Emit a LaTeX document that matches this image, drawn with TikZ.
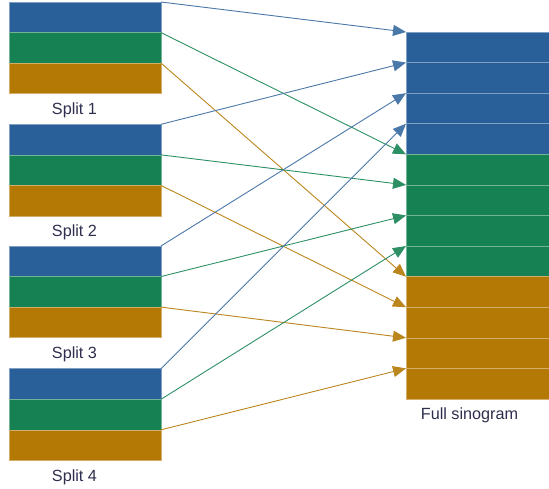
\documentclass[tikz,border=0pt]{standalone}
\usepackage{fontspec}
\setmainfont{Liberation Sans}
\usetikzlibrary{arrows.meta}
\definecolor{cblue}{HTML}{2A6099}
\definecolor{cgreen}{HTML}{168253}
\definecolor{corange}{HTML}{B47804}
\definecolor{ctext}{HTML}{2E2E4E}
\tikzset{
  row/.style={rectangle, inner sep=0pt, outer sep=0pt, anchor=north west,
    minimum width=152pt, minimum height=30.55pt, line width=0.6pt},
  frow/.style={rectangle, inner sep=0pt, outer sep=0pt, anchor=north west,
    minimum width=143pt, minimum height=30.58pt, line width=0.6pt},
  rb/.style={fill=cblue, draw=cblue!60!white},
  rg/.style={fill=cgreen, draw=cgreen!60!white},
  ro/.style={fill=corange, draw=corange!60!white},
  lbl/.style={text=ctext, font=\fontsize{16.2}{19}\selectfont, inner sep=0pt},
  arr/.style={line width=0.9pt, -{Triangle[length=13pt,width=11pt]}},
}
\begin{document}
\begin{tikzpicture}[x=1pt,y=-1pt]
\useasboundingbox (0,0) rectangle (549,488);
% left splits
\foreach \k/\top in {1/2, 2/124.3, 3/246, 4/368.7}{
  \node[row,rb] (s\k r0) at (9,\top) {};
  \node[row,rg] (s\k r1) at (9,\top+30.55) {};
  \node[row,ro] (s\k r2) at (9,\top+61.1) {};
  \node[lbl] (l\k) at (74.5,\top+108.5) {Split \k};
}
% full sinogram
\foreach \i in {0,...,3}{
  \node[frow,rb] (f\i) at (406,32+\i*30.58) {};
}
\foreach \i in {4,...,7}{
  \node[frow,rg] (f\i) at (406,32+\i*30.58) {};
}
\foreach \i in {8,...,11}{
  \node[frow,ro] (f\i) at (406,32+\i*30.58) {};
}
\node[lbl] (lf) at (469.5,415) {Full sinogram};
% arrows
\foreach \k in {1,...,4}{
  \pgfmathtruncatemacro{\a}{\k-1}
  \pgfmathtruncatemacro{\b}{\k+3}
  \pgfmathtruncatemacro{\c}{\k+7}
  \draw[arr, cblue!85!white] (s\k r0.north east) -- (f\a.north west);
  \draw[arr, cgreen!90!white] (s\k r1.north east) -- (f\b.north west);
  \draw[arr, corange!90!white] (s\k r2.north east) -- (f\c.north west);
}
\end{tikzpicture}
\end{document}
